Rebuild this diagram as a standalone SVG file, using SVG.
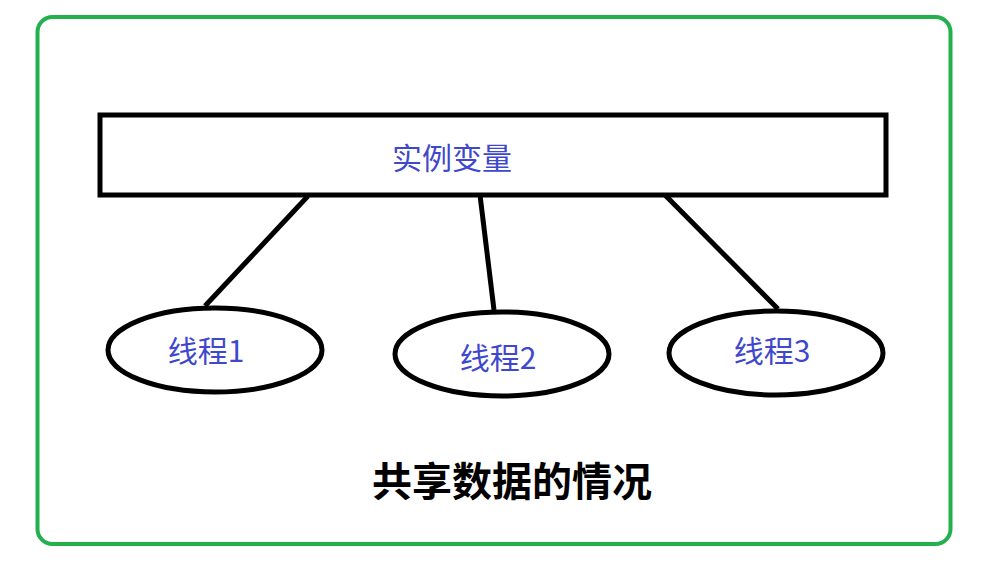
<svg xmlns="http://www.w3.org/2000/svg" width="1001" height="565" viewBox="0 0 1001 565">
<style>
.shape{fill:#fff;stroke:#000;stroke-width:5}
.lbl{font-family:"Noto Sans CJK SC","Noto Sans",sans-serif;fill:#3F48CC;font-size:30px;text-anchor:middle;dominant-baseline:central}
.conn line{stroke:#000;stroke-width:5;stroke-linecap:butt}
.title{font-family:"Noto Sans CJK SC","Noto Sans",sans-serif;font-weight:bold;font-size:40px;fill:#000;text-anchor:middle;dominant-baseline:central}
</style>
<rect width="1001" height="565" fill="#fff"/>
<rect x="37.5" y="17" width="913" height="527" rx="15" fill="none" stroke="#22B14C" stroke-width="4"/>
<g class="conn" id="connectors">
<line x1="308" y1="196" x2="205" y2="306"/>
<line x1="480" y1="195" x2="494" y2="310"/>
<line x1="665" y1="195" x2="778" y2="309"/>
</g>
<g id="instance">
<rect class="shape" x="100" y="115" width="786" height="80"/>
<text class="lbl" x="452" y="156">实例变量</text>
</g>
<g id="thread1">
<ellipse class="shape" cx="215" cy="350" rx="107" ry="42"/>
<text class="lbl" x="206" y="349">线程1</text>
</g>
<g id="thread2">
<ellipse class="shape" cx="502" cy="354" rx="107" ry="42"/>
<text class="lbl" x="498" y="356">线程2</text>
</g>
<g id="thread3">
<ellipse class="shape" cx="776" cy="353" rx="107" ry="42"/>
<text class="lbl" x="772" y="349">线程3</text>
</g>
<text class="title" x="512" y="479">共享数据的情况</text>
</svg>
